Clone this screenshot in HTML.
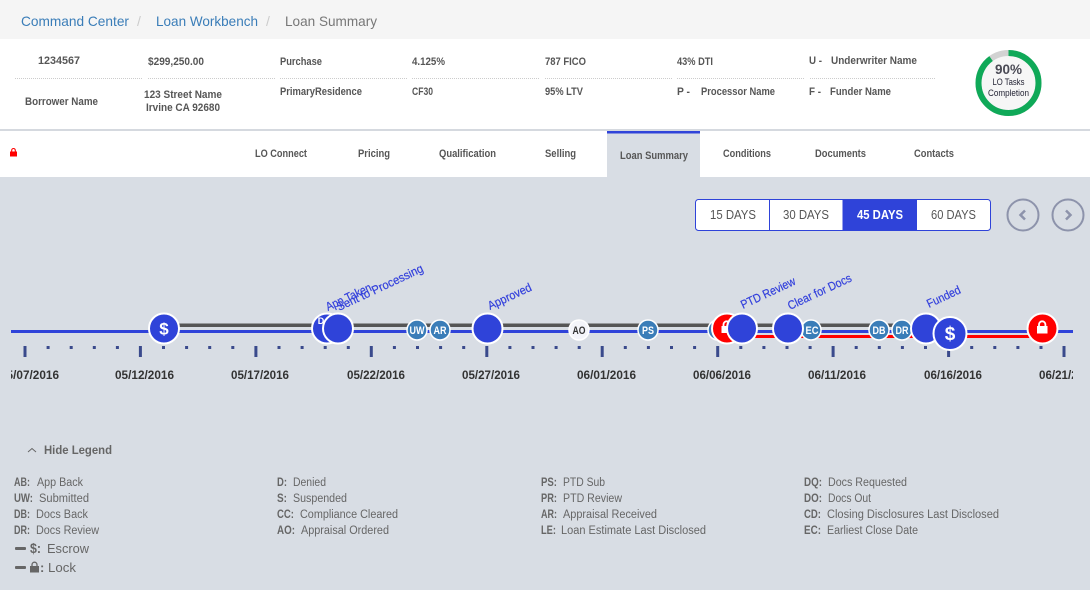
<!DOCTYPE html>
<html><head><meta charset="utf-8"><style>
html,body{margin:0;padding:0;background:#d8dde4}
svg{display:block;font-family:"Liberation Sans",sans-serif}
.bc{font-size:14px}
.h{font-size:11px;font-weight:bold;fill:#565656}
.t{font-size:11px;font-weight:bold;fill:#565656}
.d{font-size:12.5px;fill:#555}
.dt{font-size:11.5px;font-weight:bold;fill:#333}
.r{font-size:12px;fill:#3340dc;stroke:#3340dc;stroke-width:.2}
.n{font-size:11px;font-weight:bold;fill:#fff;text-anchor:middle}
.l{font-size:11.500px;fill:#666}
.lb{font-size:11.500px;font-weight:bold;fill:#666}
</style></head><body>
<svg width="1090" height="590" viewBox="0 0 1090 590" xmlns="http://www.w3.org/2000/svg">
<defs><clipPath id="c"><rect x="11" y="240" width="1062" height="160"/></clipPath></defs>
<rect width="1090" height="590" fill="#d8dde4"/>
<rect width="1090" height="39" fill="#f5f5f5"/>
<rect y="39" width="1090" height="90" fill="#fff"/>
<rect y="131" width="1090" height="46" fill="#fff"/>

<text class="bc" x="21" y="26" fill="#3a7db8" textLength="108" lengthAdjust="spacingAndGlyphs">Command Center</text>
<text class="bc" x="137" y="26" fill="#ccc">/</text>
<text class="bc" x="156" y="26" fill="#3a7db8" textLength="102" lengthAdjust="spacingAndGlyphs">Loan Workbench</text>
<text class="bc" x="266" y="26" fill="#ccc">/</text>
<text class="bc" x="285" y="26" fill="#777" textLength="92" lengthAdjust="spacingAndGlyphs">Loan Summary</text>

<text class="h" x="38" y="64" textLength="42" lengthAdjust="spacingAndGlyphs">1234567</text>
<text class="h" x="148" y="65" textLength="56" lengthAdjust="spacingAndGlyphs">$299,250.00</text>
<text class="h" x="280" y="65" textLength="42" lengthAdjust="spacingAndGlyphs">Purchase</text>
<text class="h" x="412" y="65" textLength="33" lengthAdjust="spacingAndGlyphs">4.125%</text>
<text class="h" x="545" y="65" textLength="41" lengthAdjust="spacingAndGlyphs">787 FICO</text>
<text class="h" x="677" y="65" textLength="36" lengthAdjust="spacingAndGlyphs">43% DTI</text>
<text class="h" x="809" y="64" textLength="13" lengthAdjust="spacingAndGlyphs">U -</text>
<text class="h" x="831" y="64" textLength="86" lengthAdjust="spacingAndGlyphs">Underwriter Name</text>
<path d="M15 78.5H142M148 78.5H275M280 78.5H407M412 78.5H539M545 78.5H672M677 78.5H804M810 78.5H936" stroke="#ccc" stroke-width="1" stroke-dasharray="1 1" fill="none"/>
<text class="h" x="25" y="105" textLength="73" lengthAdjust="spacingAndGlyphs">Borrower Name</text>
<text class="h" x="144" y="98" textLength="78" lengthAdjust="spacingAndGlyphs">123 Street Name</text>
<text class="h" x="146" y="111" textLength="74" lengthAdjust="spacingAndGlyphs">Irvine CA 92680</text>
<text class="h" x="280" y="95" textLength="82" lengthAdjust="spacingAndGlyphs">PrimaryResidence</text>
<text class="h" x="412" y="95" textLength="21" lengthAdjust="spacingAndGlyphs">CF30</text>
<text class="h" x="545" y="95" textLength="38" lengthAdjust="spacingAndGlyphs">95% LTV</text>
<text class="h" x="677" y="95" textLength="13" lengthAdjust="spacingAndGlyphs">P -</text>
<text class="h" x="701" y="95" textLength="74" lengthAdjust="spacingAndGlyphs">Processor Name</text>
<text class="h" x="809" y="95" textLength="12" lengthAdjust="spacingAndGlyphs">F -</text>
<text class="h" x="830" y="95" textLength="61" lengthAdjust="spacingAndGlyphs">Funder Name</text>

<circle cx="1008.5" cy="83" r="30" fill="#f6f6f6" stroke="#d2d2d2" stroke-width="6"/>
<circle cx="1008.5" cy="83" r="30" fill="none" stroke="#0fa958" stroke-width="6" stroke-dasharray="169.6 188.5" transform="rotate(-90 1008.5 83)"/>
<text x="1008.5" y="74" text-anchor="middle" font-size="13.500" font-weight="bold" fill="#4a4a55">90%</text>
<text x="1008.5" y="85" text-anchor="middle" font-size="9" fill="#223" textLength="32" lengthAdjust="spacingAndGlyphs">LO Tasks</text>
<text x="1008.5" y="96" text-anchor="middle" font-size="9" fill="#223" textLength="41" lengthAdjust="spacingAndGlyphs">Completion</text>

<rect y="129" width="1090" height="2" fill="#d5d9df"/>
<rect x="607" y="131" width="93" height="46" fill="#d8dde4"/>
<rect x="607" y="131" width="93" height="2.500" fill="#2f43d9"/>
<rect x="10" y="151.500" width="7" height="5" fill="#f00"/>
<path d="M11.700 151.500v-1.200a1.800 1.800 0 0 1 3.600 0v1.200" fill="none" stroke="#f00" stroke-width="1.100"/>
<text class="t" x="255" y="157" textLength="52" lengthAdjust="spacingAndGlyphs">LO Connect</text>
<text class="t" x="358" y="157" textLength="32" lengthAdjust="spacingAndGlyphs">Pricing</text>
<text class="t" x="439" y="157" textLength="57" lengthAdjust="spacingAndGlyphs">Qualification</text>
<text class="t" x="545" y="157" textLength="31" lengthAdjust="spacingAndGlyphs">Selling</text>
<text class="t" x="620" y="159" textLength="68" lengthAdjust="spacingAndGlyphs">Loan Summary</text>
<text class="t" x="723" y="157" textLength="48" lengthAdjust="spacingAndGlyphs">Conditions</text>
<text class="t" x="815" y="157" textLength="51" lengthAdjust="spacingAndGlyphs">Documents</text>
<text class="t" x="914" y="157" textLength="40" lengthAdjust="spacingAndGlyphs">Contacts</text>

<rect x="695.5" y="199.5" width="295" height="31" rx="3" fill="#fff" stroke="#2f43d9"/>
<rect x="842.5" y="199" width="74.5" height="32" fill="#2f43d9"/>
<path d="M769.5 199.5V231" stroke="#2f43d9"/>
<text class="d" x="710" y="219" textLength="46" lengthAdjust="spacingAndGlyphs">15 DAYS</text>
<text class="d" x="783" y="219" textLength="46" lengthAdjust="spacingAndGlyphs">30 DAYS</text>
<text class="d" x="857" y="219" textLength="46" lengthAdjust="spacingAndGlyphs" style="fill:#fff;font-weight:bold">45 DAYS</text>
<text class="d" x="931" y="219" textLength="45" lengthAdjust="spacingAndGlyphs">60 DAYS</text>
<circle cx="1023" cy="215" r="15.5" fill="none" stroke="#8d93ab" stroke-width="2"/>
<circle cx="1068" cy="215" r="15.5" fill="none" stroke="#8d93ab" stroke-width="2"/>
<path d="M1025 210.500l-4.500 4.500 4.500 4.500" fill="none" stroke="#8d93ab" stroke-width="2.500"/>
<path d="M1066 210.500l4.500 4.500-4.500 4.500" fill="none" stroke="#8d93ab" stroke-width="2.500"/>

<g clip-path="url(#c)">
<path d="M48.100 346v3M71.200 346v3M94.300 346v3M117.400 346v3M163.500 346v3M186.600 346v3M209.700 346v3M232.800 346v3M279 346v3M302.100 346v3M325.200 346v3M348.300 346v3M394.400 346v3M417.500 346v3M440.600 346v3M463.700 346v3M509.900 346v3M533 346v3M556.100 346v3M579.200 346v3M625.300 346v3M648.400 346v3M671.500 346v3M694.600 346v3M740.800 346v3M763.900 346v3M787 346v3M810.100 346v3M856.200 346v3M879.300 346v3M902.400 346v3M925.500 346v3M971.700 346v3M994.800 346v3M1017.900 346v3M1041 346v3" stroke="#3a4a8c" stroke-width="3" fill="none"/>
<path d="M25 346v11M140.400 346v11M255.900 346v11M371.300 346v11M486.800 346v11M602.200 346v11M717.700 346v11M833.100 346v11M948.600 346v11M1064 346v11" stroke="#3a4a8c" stroke-width="3" fill="none"/>
<rect x="164" y="323.500" width="762" height="3.500" fill="#555"/>
<rect x="11" y="330" width="1062" height="3" fill="#2f43d9"/>
<rect x="741" y="335" width="301" height="3" fill="#f00"/>
<text class="dt" x="0" y="379" textLength="59" lengthAdjust="spacingAndGlyphs">05/07/2016</text>
<text class="dt" x="115" y="379" textLength="59" lengthAdjust="spacingAndGlyphs">05/12/2016</text>
<text class="dt" x="231" y="379" textLength="58" lengthAdjust="spacingAndGlyphs">05/17/2016</text>
<text class="dt" x="347" y="379" textLength="58" lengthAdjust="spacingAndGlyphs">05/22/2016</text>
<text class="dt" x="462" y="379" textLength="58" lengthAdjust="spacingAndGlyphs">05/27/2016</text>
<text class="dt" x="577" y="379" textLength="59" lengthAdjust="spacingAndGlyphs">06/01/2016</text>
<text class="dt" x="693" y="379" textLength="58" lengthAdjust="spacingAndGlyphs">06/06/2016</text>
<text class="dt" x="808" y="379" textLength="58" lengthAdjust="spacingAndGlyphs">06/11/2016</text>
<text class="dt" x="924" y="379" textLength="58" lengthAdjust="spacingAndGlyphs">06/16/2016</text>
<text class="dt" x="1039" y="379" textLength="58" lengthAdjust="spacingAndGlyphs">06/21/2016</text>
</g>

<text class="r" transform="translate(328 311) rotate(-25)" textLength="49" lengthAdjust="spacingAndGlyphs">App Taken</text>
<text class="r" transform="translate(339 311) rotate(-25)" textLength="94" lengthAdjust="spacingAndGlyphs">Sent to Processing</text>
<text class="r" transform="translate(490 310) rotate(-25)" textLength="47" lengthAdjust="spacingAndGlyphs">Approved</text>
<text class="r" transform="translate(743 309) rotate(-25)" textLength="59" lengthAdjust="spacingAndGlyphs">PTD Review</text>
<text class="r" transform="translate(790 310) rotate(-25)" textLength="69" lengthAdjust="spacingAndGlyphs">Clear for Docs</text>
<text class="r" transform="translate(929 308) rotate(-25)" textLength="36" lengthAdjust="spacingAndGlyphs">Funded</text>

<g stroke="#fff">
<circle cx="164" cy="328.500" r="15" fill="#2f43d9" stroke-width="2"/>
<circle cx="327" cy="328.500" r="15" fill="#2f43d9" stroke-width="2"/>
</g>
<text class="n" x="321" y="324" style="font-size:9px">D</text>
<g stroke="#fff">
<circle cx="338" cy="328.500" r="15" fill="#2f43d9" stroke-width="2"/>
<circle cx="417" cy="330" r="10" fill="#3a7db8" stroke-width="1.500"/>
<circle cx="440" cy="330" r="10" fill="#3a7db8" stroke-width="1.500"/>
<circle cx="487.500" cy="328.500" r="15" fill="#2f43d9" stroke-width="2"/>
<circle cx="579" cy="330" r="10" fill="#f4f5fa" stroke-width="1.500"/>
<circle cx="648" cy="330" r="10" fill="#3a7db8" stroke-width="1.500"/>
<circle cx="718" cy="330" r="10" fill="#3a7db8" stroke-width="1.500"/>
<circle cx="727" cy="328.500" r="15" fill="#f00" stroke-width="2"/>
</g>
<rect x="721.500" y="326" width="10.500" height="7" fill="#fff"/>
<path d="M723.500 326v-1.500a3.200 3.200 0 0 1 6.400 0v1.500" fill="none" stroke="#fff" stroke-width="1.800"/>
<g stroke="#fff">
<circle cx="742" cy="328.500" r="15" fill="#2f43d9" stroke-width="2"/>
<circle cx="811" cy="330" r="10" fill="#3a7db8" stroke-width="1.500"/>
<circle cx="788" cy="328.500" r="15" fill="#2f43d9" stroke-width="2"/>
<circle cx="879" cy="330" r="10" fill="#3a7db8" stroke-width="1.500"/>
<circle cx="902" cy="330" r="10" fill="#3a7db8" stroke-width="1.500"/>
<circle cx="926" cy="328.500" r="15" fill="#2f43d9" stroke-width="2"/>
<circle cx="950" cy="333.500" r="16.500" fill="#2f43d9" stroke-width="2"/>
<circle cx="1042.500" cy="328.500" r="15" fill="#f00" stroke-width="2"/>
</g>
<text class="n" x="164" y="334.500" style="font-size:17px">$</text>
<text class="n" x="950" y="340" style="font-size:19px">$</text>
<text class="n" x="417" y="334" textLength="15" lengthAdjust="spacingAndGlyphs">UW</text>
<text class="n" x="440" y="334" textLength="13" lengthAdjust="spacingAndGlyphs">AR</text>
<text class="n" x="579" y="334" style="fill:#333" textLength="13" lengthAdjust="spacingAndGlyphs">AO</text>
<text class="n" x="648" y="334" textLength="12" lengthAdjust="spacingAndGlyphs">PS</text>
<text class="n" x="812" y="334" textLength="13" lengthAdjust="spacingAndGlyphs">EC</text>
<text class="n" x="879" y="334" textLength="13" lengthAdjust="spacingAndGlyphs">DB</text>
<text class="n" x="902" y="334" textLength="13" lengthAdjust="spacingAndGlyphs">DR</text>
<rect x="1037" y="326" width="10.500" height="7.500" fill="#fff"/>
<path d="M1039 326v-1.500a3.200 3.200 0 0 1 6.400 0v1.500" fill="none" stroke="#fff" stroke-width="1.800"/>

<path d="M28 452l4-3.500 4 3.500" fill="none" stroke="#666" stroke-width="1"/>
<text x="44" y="454" font-size="12" font-weight="bold" fill="#666" textLength="68" lengthAdjust="spacingAndGlyphs">Hide Legend</text>

<text class="lb" x="14" y="486" textLength="16" lengthAdjust="spacingAndGlyphs">AB:</text><text class="l" x="37" y="486" textLength="46" lengthAdjust="spacingAndGlyphs">App Back</text>
<text class="lb" x="14" y="502" textLength="19" lengthAdjust="spacingAndGlyphs">UW:</text><text class="l" x="39" y="502" textLength="50" lengthAdjust="spacingAndGlyphs">Submitted</text>
<text class="lb" x="14" y="518" textLength="16" lengthAdjust="spacingAndGlyphs">DB:</text><text class="l" x="36" y="518" textLength="52" lengthAdjust="spacingAndGlyphs">Docs Back</text>
<text class="lb" x="14" y="534" textLength="16" lengthAdjust="spacingAndGlyphs">DR:</text><text class="l" x="36" y="534" textLength="63" lengthAdjust="spacingAndGlyphs">Docs Review</text>
<rect x="15" y="547" width="11" height="3" rx="1" fill="#666"/>
<text x="30" y="553" font-size="14" fill="#666" font-weight="bold" textLength="11" lengthAdjust="spacingAndGlyphs">$:</text>
<text x="47" y="553" font-size="13" fill="#666" textLength="42" lengthAdjust="spacingAndGlyphs">Escrow</text>
<rect x="15" y="566" width="11" height="3" rx="1" fill="#666"/>
<rect x="30" y="566" width="9" height="6.500" fill="#666"/>
<path d="M32 566v-1.300a2.500 2.500 0 0 1 5 0v1.300" fill="none" stroke="#666" stroke-width="1.300"/>
<text x="40" y="572" font-size="13" fill="#666" font-weight="bold">:</text>
<text x="48" y="572" font-size="13" fill="#666" textLength="28" lengthAdjust="spacingAndGlyphs">Lock</text>

<text class="lb" x="277" y="486" textLength="10" lengthAdjust="spacingAndGlyphs">D:</text><text class="l" x="293" y="486" textLength="33" lengthAdjust="spacingAndGlyphs">Denied</text>
<text class="lb" x="277" y="502" textLength="10" lengthAdjust="spacingAndGlyphs">S:</text><text class="l" x="293" y="502" textLength="54" lengthAdjust="spacingAndGlyphs">Suspended</text>
<text class="lb" x="277" y="518" textLength="17" lengthAdjust="spacingAndGlyphs">CC:</text><text class="l" x="300" y="518" textLength="98" lengthAdjust="spacingAndGlyphs">Compliance Cleared</text>
<text class="lb" x="277" y="534" textLength="18" lengthAdjust="spacingAndGlyphs">AO:</text><text class="l" x="301" y="534" textLength="88" lengthAdjust="spacingAndGlyphs">Appraisal Ordered</text>

<text class="lb" x="541" y="486" textLength="16" lengthAdjust="spacingAndGlyphs">PS:</text><text class="l" x="563" y="486" textLength="42" lengthAdjust="spacingAndGlyphs">PTD Sub</text>
<text class="lb" x="541" y="502" textLength="16" lengthAdjust="spacingAndGlyphs">PR:</text><text class="l" x="563" y="502" textLength="59" lengthAdjust="spacingAndGlyphs">PTD Review</text>
<text class="lb" x="541" y="518" textLength="16" lengthAdjust="spacingAndGlyphs">AR:</text><text class="l" x="563" y="518" textLength="94" lengthAdjust="spacingAndGlyphs">Appraisal Received</text>
<text class="lb" x="541" y="534" textLength="15" lengthAdjust="spacingAndGlyphs">LE:</text><text class="l" x="561" y="534" textLength="145" lengthAdjust="spacingAndGlyphs">Loan Estimate Last Disclosed</text>

<text class="lb" x="804" y="486" textLength="18" lengthAdjust="spacingAndGlyphs">DQ:</text><text class="l" x="828" y="486" textLength="79" lengthAdjust="spacingAndGlyphs">Docs Requested</text>
<text class="lb" x="804" y="502" textLength="18" lengthAdjust="spacingAndGlyphs">DO:</text><text class="l" x="828" y="502" textLength="43" lengthAdjust="spacingAndGlyphs">Docs Out</text>
<text class="lb" x="804" y="518" textLength="17" lengthAdjust="spacingAndGlyphs">CD:</text><text class="l" x="827" y="518" textLength="172" lengthAdjust="spacingAndGlyphs">Closing Disclosures Last Disclosed</text>
<text class="lb" x="804" y="534" textLength="17" lengthAdjust="spacingAndGlyphs">EC:</text><text class="l" x="827" y="534" textLength="91" lengthAdjust="spacingAndGlyphs">Earliest Close Date</text>
</svg>
</body></html>
